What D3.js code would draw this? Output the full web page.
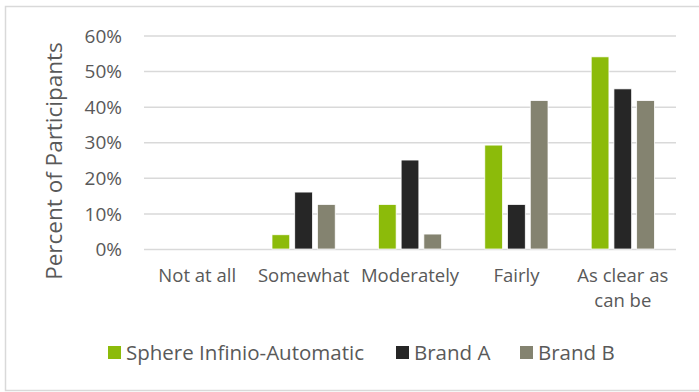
<!DOCTYPE html>
<html><head><meta charset="utf-8">
<script src="https://cdn.jsdelivr.net/npm/d3@7"></script>
<style>html,body{margin:0;padding:0;background:#fff;}svg{display:block;}</style>
</head><body>
<svg id="chart" width="699" height="392"></svg>
<script>
const categories = ["Not at all", "Somewhat", "Moderately", "Fairly", "As clear as can be"];
const seriesNames = ["Sphere Infinio-Automatic", "Brand A", "Brand B"];
const sphereValues = [0, 4, 12.5, 29.2, 54];
const brandAValues = [0, 16, 25, 12.5, 45];
const brandBValues = [0, 12.5, 4.2, 41.7, 41.7];
const yTicks = [0, 10, 20, 30, 40, 50, 60];
const colors = ["#8CBB0A", "#262626", "#848370"];
const allValues = [sphereValues, brandAValues, brandBValues];

(function() {
const svg = d3.select("#chart");
const font = "'Open Sans', 'Noto Sans', sans-serif";
const textColor = "#595959";

svg.append("rect").attr("x", 5.5).attr("y", 6.5).attr("width", 700).attr("height", 384)
  .attr("fill", "#fff").attr("stroke", "#D9D9D9").attr("stroke-width", 1.5);

const mLeft = 144, mRight = 676, mTop = 35.5, mBottom = 249;
const x = d3.scaleBand().domain(categories).range([mLeft, mRight]).paddingInner(0).paddingOuter(0);
const y = d3.scaleLinear().domain([0, 60]).range([mBottom, mTop]);
const inner = d3.scaleBand().domain(seriesNames).range([0, x.bandwidth()]).paddingInner(0.22).paddingOuter(0.95);

const yAxis = d3.axisLeft(y).tickValues(yTicks).tickSize(-(mRight - mLeft)).tickFormat(d => d + "%");
const gy = svg.append("g").attr("transform", `translate(${mLeft},0)`).call(yAxis);
gy.select(".domain").remove();
gy.selectAll(".tick line").attr("stroke", "#D9D9D9").attr("stroke-width", 1.5);
gy.selectAll(".tick text").attr("x", -22).attr("dy", "0.35em").attr("fill", textColor)
  .style("font-family", font).style("font-size", "19px");

seriesNames.forEach((s, si) => {
  svg.append("g").selectAll("rect").data(allValues[si]).join("rect")
    .attr("x", (d, i) => x(categories[i]) + inner(s))
    .attr("width", inner.bandwidth())
    .attr("y", d => y(d))
    .attr("height", d => y(0) - y(d))
    .attr("fill", colors[si])
    .attr("stroke", d => d > 0 ? "#fff" : "none").attr("stroke-width", 0.75);
});

const xAxis = d3.axisBottom(x).tickSize(0);
const gx = svg.append("g").attr("transform", `translate(0,${mBottom})`).call(xAxis);
gx.select(".domain").remove();
gx.selectAll(".tick text").remove();
const wrapLabels = {"As clear as can be": ["As clear as", "can be"]};
gx.selectAll(".tick").each(function(d) {
  const lines = wrapLabels[d] || [d];
  const t = d3.select(this).append("text").attr("fill", textColor)
    .attr("text-anchor", "middle").style("font-family", font).style("font-size", "18.5px");
  lines.forEach((ln, i) => t.append("tspan").attr("x", 0).attr("y", 33 + i * 25).text(ln));
});

svg.append("text").attr("transform", "translate(62,161) rotate(-90)")
  .attr("text-anchor", "middle").attr("fill", textColor)
  .style("font-family", font).style("font-size", "22.5px").text("Percent of Participants");

const legendX = [108, 396, 520];
const lg = svg.append("g");
seriesNames.forEach((s, i) => {
  lg.append("rect").attr("x", legendX[i]).attr("y", 346).attr("width", 13).attr("height", 13).attr("fill", colors[i]);
  lg.append("text").attr("x", legendX[i] + 18).attr("y", 352.5).attr("dy", "0.35em")
    .attr("fill", textColor).style("font-family", font).style("font-size", "20.5px").text(s);
});
})();
</script>
</body></html>
